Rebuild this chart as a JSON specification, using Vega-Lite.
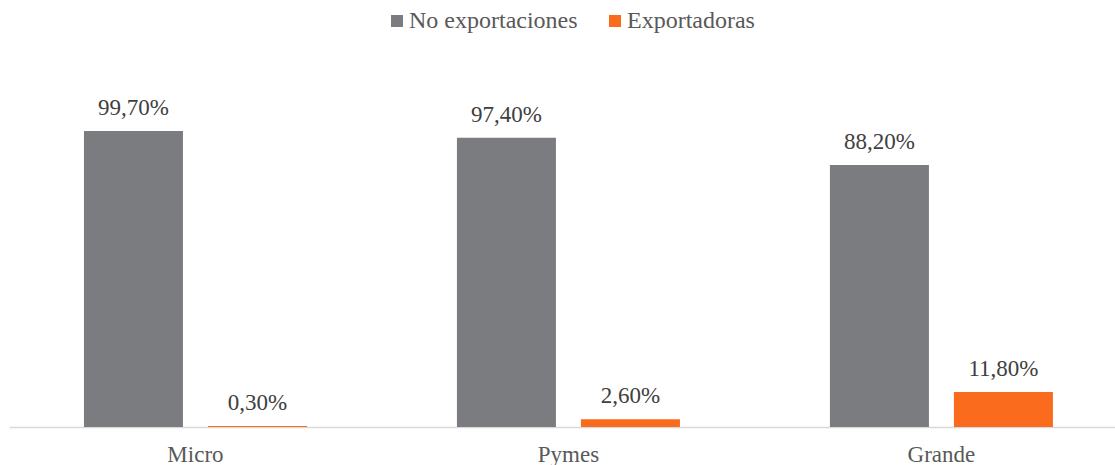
{
  "$schema": "https://vega.github.io/schema/vega-lite/v6.json",
  "autosize": {"type": "none"},
  "width": 1106,
  "height": 297,
  "padding": {"left": 9, "top": 130, "right": 0, "bottom": 38},
  "background": "white",
  "config": {
    "font": "Liberation Serif",
    "view": {"stroke": null},
    "legend": {"labelFont": "Liberation Serif"},
    "text": {"font": "Liberation Serif"}
  },
  "data": {
    "values": [
      {"cat": "Micro", "serie": "No exportaciones", "valor": 99.7, "label": "99,70%"},
      {"cat": "Micro", "serie": "Exportadoras", "valor": 0.3, "label": "0,30%"},
      {"cat": "Pymes", "serie": "No exportaciones", "valor": 97.4, "label": "97,40%"},
      {"cat": "Pymes", "serie": "Exportadoras", "valor": 2.6, "label": "2,60%"},
      {"cat": "Grande", "serie": "No exportaciones", "valor": 88.2, "label": "88,20%"},
      {"cat": "Grande", "serie": "Exportadoras", "valor": 11.8, "label": "11,80%"}
    ]
  },
  "encoding": {
    "x": {
      "field": "cat", "type": "nominal", "sort": ["Micro", "Pymes", "Grande"],
      "scale": {"paddingInner": 0.4021, "paddingOuter": 0.1837, "align": 0.547},
      "axis": {"title": null, "labelAngle": 0, "ticks": false, "domainColor": "#d9d9d9", "domainWidth": 1.5,
               "labelFontSize": 23, "labelColor": "#595959", "labelPadding": 16}
    },
    "xOffset": {
      "field": "serie", "type": "nominal", "sort": ["No exportaciones", "Exportadoras"],
      "scale": {"paddingInner": 0.2016, "paddingOuter": 0}
    },
    "y": {
      "field": "valor", "type": "quantitative",
      "scale": {"domain": [0, 100]},
      "axis": null
    }
  },
  "layer": [
    {
      "mark": {"type": "bar"},
      "encoding": {
        "color": {
          "field": "serie", "type": "nominal", "sort": ["No exportaciones", "Exportadoras"],
          "scale": {"domain": ["No exportaciones", "Exportadoras"], "range": ["#7b7c7f", "#fa6b1e"]},
          "legend": {
            "title": null, "orient": "none", "direction": "horizontal", "legendX": 376, "legendY": -121,
            "symbolType": "square", "symbolSize": 144, "symbolStrokeWidth": 0, "symbolOpacity": 1,
            "labelFontSize": 24, "labelColor": "#595959",
            "labelOffset": 0, "columnPadding": 25, "labelLimit": 400
          }
        }
      }
    },
    {
      "mark": {"type": "text", "baseline": "alphabetic", "dy": -16, "fontSize": 23, "color": "#404040"},
      "encoding": {
        "text": {"field": "label"}
      }
    }
  ]
}
